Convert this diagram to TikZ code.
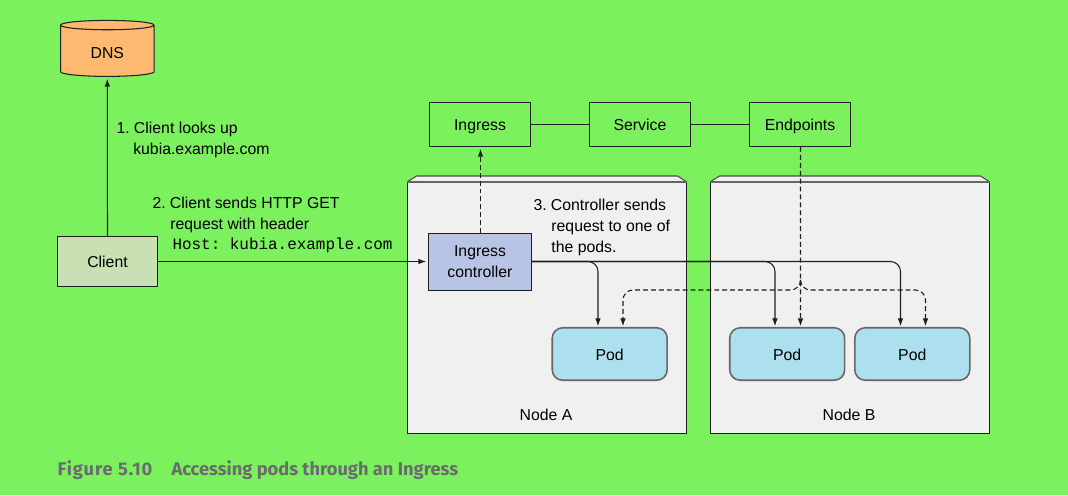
\documentclass[tikz,border=0pt]{standalone}
\usepackage{fontspec}
\setmainfont{Liberation Sans}
\setmonofont{Liberation Mono}
\newfontfamily\captionfont{Fira Sans}
\newfontfamily\capnumfont[LetterSpace=5]{Fira Sans}
\usetikzlibrary{shapes.geometric,arrows.meta}
\definecolor{pagegreen}{HTML}{7BF15E}
\definecolor{dbfill}{HTML}{FDB96F}
\definecolor{clientfill}{HTML}{C8E0B4}
\definecolor{ctrlfill}{HTML}{B8C4E4}
\definecolor{podfill}{HTML}{ADE0EE}
\definecolor{workerfill}{HTML}{F0F0F0}
\definecolor{captiongray}{HTML}{6D6A6F}
\definecolor{inkdark}{HTML}{1F1F1F}
\begin{document}
\begin{tikzpicture}[x=0.02cm, y=-0.02cm, line width=0.6pt, draw=inkdark,
    every node/.style={font=\fontsize{9}{11.9}\selectfont, text=black, inner sep=0pt},
    oneline/.style={text height=8pt, text depth=0.7pt},
    box/.style={draw, minimum width=2.02cm, minimum height=0.88cm, align=center},
    worker/.style={draw, fill=workerfill, minimum width=5.58cm, minimum height=5.02cm},
    pod/.style={oneline, draw=black!60, line width=0.9pt, fill=podfill, rounded corners=6pt,
      minimum width=2.3cm, minimum height=1.05cm},
    note/.style={anchor=west, align=left},
    link/.style={-{Latex[length=4.5pt,width=3.2pt]}, shorten >=1pt},
    elbow/.style={link, rounded corners=5.7pt},
    dashline/.style={link, dash pattern=on 2.8pt off 1.7pt},
    dashelbow/.style={dashline, rounded corners=5.7pt}]
  \useasboundingbox[fill=pagegreen] (0,0) rectangle (1068,495);

  \node (dns) at (107.3,51) [cylinder, shape border rotate=90, aspect=0.28, draw, fill=dbfill,
    text height=9pt, text depth=0pt, minimum width=1.87cm, minimum height=1.12cm] {DNS};
  \node (client) at (107.5,261.5) [box, oneline, fill=clientfill, minimum width=2cm, minimum height=1cm] {Client};

  \node (ingress) at (480,124.5) [box, oneline] {Ingress};
  \node (service) at (640,124.5) [box, oneline] {Service};
  \node (endpoints) at (800,124.5) [box, oneline] {Endpoints};

  \node (nodea) at (547,308) [worker] {};
  \node (nodeb) at (850,308) [worker] {};
  \foreach \w in {nodea,nodeb} {
    \draw[fill=workerfill, draw=black!70] (\w.north west) -- ++(9.5,-6) -- ([xshift=-0.19cm,yshift=0.12cm]\w.north east) -- (\w.north east);
    \draw[black!60, line width=0.9pt] (\w.north west) -- (\w.north east);
  }
  \node (labela) at (546,415) {Node A};
  \node (labelb) at (849,415) {Node B};

  \node (ctrl) at (480,262) [box, fill=ctrlfill, minimum width=2.06cm, minimum height=1.14cm] {Ingress\\controller};

  \node (poda) at (609.7,354) [pod] {Pod};
  \node (podb) at (787.2,354) [pod] {Pod};
  \node (podc) at (912.3,354) [pod] {Pod};

  \coordinate (ctrlout) at (ctrl.east |- client.east);
  \coordinate (tipa) at (598,328);
  \coordinate (tipb) at (775,328);
  \coordinate (tipc) at (900.5,328);
  \coordinate (dasha) at (623,328);
  \coordinate (dashb) at (800.5,328);
  \coordinate (dashc) at (925.5,328);
  \coordinate (fork) at (800.5,280);
  \coordinate (busa) at (623,290);
  \coordinate (busc) at (925.5,290);

  \draw[link] (client.north) -- (dns.south);
  \draw[link] (client.east) -- (client.east -| ctrl.west);
  \draw (ingress) -- (service);
  \draw (service) -- (endpoints);
  \draw[dashline] ([xshift=0.01cm]ctrl.north) -- ([xshift=0.01cm]ingress.south);
  \draw[dashline] ([xshift=0.01cm]endpoints.south) -- (dashb);

  \draw[elbow] (ctrlout) -| (tipa);
  \draw[elbow] (ctrlout) -| (tipb);
  \draw[elbow] (ctrlout) -| (tipc);
  \draw[dashelbow] (fork) |- (busa) -- (dasha);
  \draw[dashelbow] (fork) |- (busc) -- (dashc);

  \node (step1) at (116,140) [note] {1.\hspace{0.27em}Client looks up\\\hspace*{1.06em}kubia.example.com};
  \node (step2) at (152,215) [note] {2.\hspace{0.27em}Client sends HTTP GET\\\hspace*{1.13em}request with header};
  \node (host) at (172,245.5) [note, font=\fontsize{9.07}{11}\ttfamily] {Host: kubia.example.com};
  \node (step3) at (533,227) [note] {3.\hspace{0.27em}Controller sends\\\hspace*{1.13em}request to one of\\\hspace*{1.13em}the pods.};

  \node (caption) at (57,470) [note, text=captiongray, font=\fontsize{10.4}{12}\captionfont\bfseries] {{\capnumfont Figure 5.10}\hspace{1.05em}Accessing pods through an Ingress};
\end{tikzpicture}
\end{document}
